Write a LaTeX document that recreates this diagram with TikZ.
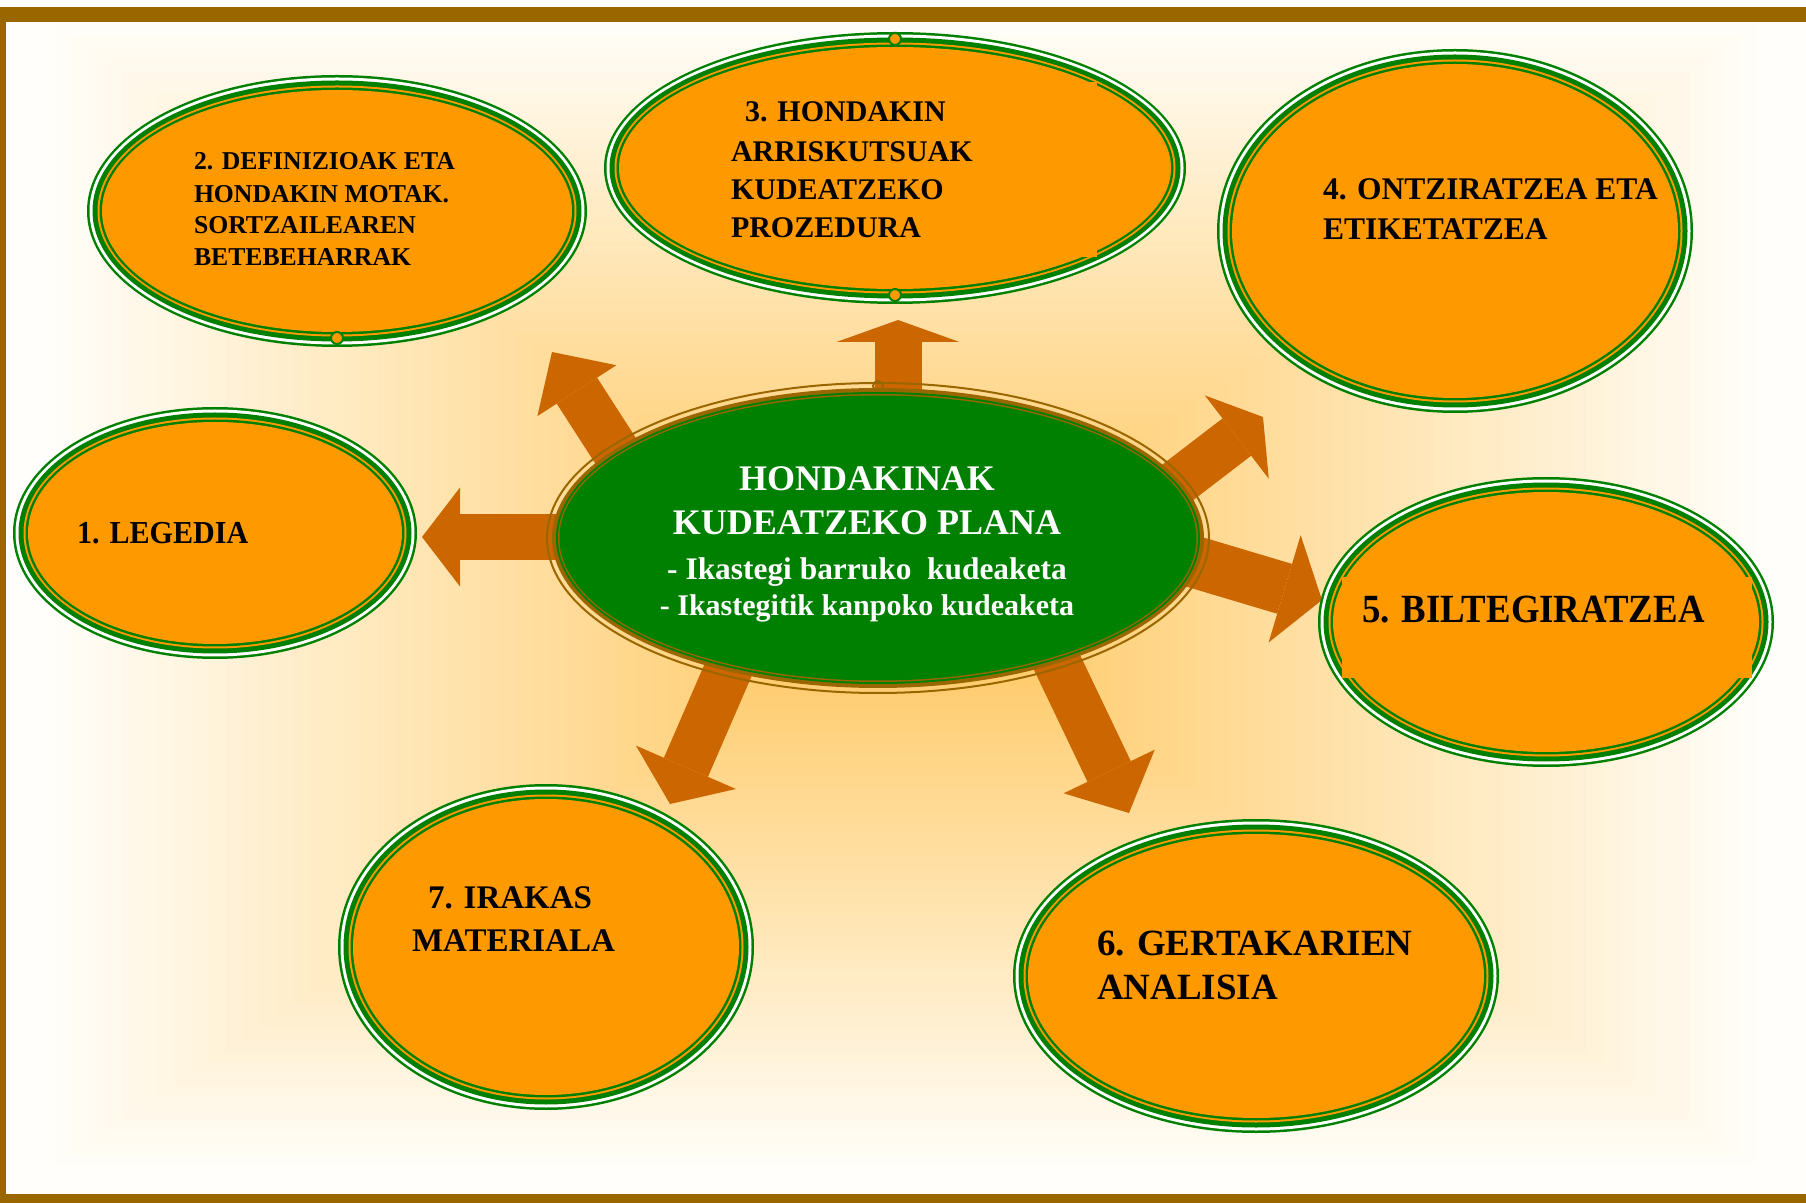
\documentclass[tikz,border=0pt]{standalone}
\usepackage{fontspec}
\setmainfont{Liberation Serif}
\newfontfamily\tnrC[FakeStretch=0.92]{Liberation Serif}
\newfontfamily\tnrD[FakeStretch=0.94]{Liberation Serif}
\usetikzlibrary{shapes.geometric,arrows.meta}

\definecolor{framebrown}{HTML}{996600}
\definecolor{ringgreen}{HTML}{008000}
\definecolor{satorange}{HTML}{FF9900}
\definecolor{arrowbrown}{HTML}{CC6600}
\definecolor{glowin}{HTML}{FFC55A}
\definecolor{glowout}{HTML}{FFFDF7}
\definecolor{pagebg}{HTML}{FFFEFB}

% concentric ring fills of an orange satellite: cx cy rx ry
\newcommand\satrings[4]{%
  \fill[ringgreen] (#1,#2) ellipse [x radius=#3, y radius=#4];
  \fill[white] (#1,#2) ellipse [x radius=#3-2.5, y radius=#4-2.5];
  \fill[ringgreen] (#1,#2) ellipse [x radius=#3-5.5, y radius=#4-5.5];
  \fill[satorange] (#1,#2) ellipse [x radius=#3-10.5, y radius=#4-10.5];
  \fill[ringgreen] (#1,#2) ellipse [x radius=#3-12.5, y radius=#4-12.5];
  \fill[satorange] (#1,#2) ellipse [x radius=#3-15, y radius=#4-15];
}

\begin{document}
\begin{tikzpicture}[x=0.5pt, y=-0.5pt,
  satnode/.style={ellipse, inner sep=0pt, outer sep=0pt},
  lbl/.style={inner sep=0pt, outer sep=0pt, anchor=base west, text=black,
              font={\bfseries\fontsize{#1}{#1}\selectfont}},
  clbl/.style={inner sep=0pt, outer sep=0pt, anchor=base, text=white,
              font={\bfseries\fontsize{#1}{#1}\selectfont}},
  barrow/.style n args={3}{draw=arrowbrown, line width=#1,
              -{Triangle[width=#2, length=#3, line width=0pt]}},
  marker/.style={draw=ringgreen, line width=1pt, fill=satorange}
]
\useasboundingbox (0,0) rectangle (1806,1203);
\fill[white] (0,0) rectangle (1806,1203);
\fill[pagebg] (0,22) rectangle (1806,1194);

% rectangular glow from the centre
\foreach \i in {0,...,49}{
  \pgfmathsetmacro\f{1-\i/50}
  \pgfmathsetmacro\p{100*\i/49}
  \fill[glowin!\p!glowout] ({906-851*\f},{595-570*\f}) rectangle ({906+851*\f},{595+570*\f});
}

% frame
\fill[framebrown] (0,7) rectangle (1806,22);
\fill[framebrown] (0,7) rectangle (6,1203);
\fill[framebrown] (0,1194) rectangle (1806,1203);

% block arrows (start points lie under the centre ellipse)
\coordinate (a1s) at (898,440);  \coordinate (a1t) at (898,320);
\coordinate (a2s) at (565,537);  \coordinate (a2t) at (422,537);
\coordinate (a3s) at (628,470);  \coordinate (a3t) at (552,352);
\coordinate (a4s) at (1160,496); \coordinate (a4t) at (1263,417);
\coordinate (a5s) at (1178,557); \coordinate (a5t) at (1322,600);
\coordinate (a6s) at (1030,606); \coordinate (a6t) at (1129,813);
\coordinate (a7s) at (762,592);  \coordinate (a7t) at (670,804);
\draw[barrow={23.5pt}{61.5pt}{11pt}] (a1s) -- (a1t);
\draw[barrow={23pt}{49.5pt}{19pt}] (a2s) -- (a2t);
\draw[barrow={24pt}{47pt}{23pt}] (a3s) -- (a3t);
\draw[barrow={23.5pt}{52.5pt}{16.5pt}] (a4s) -- (a4t);
\draw[barrow={26pt}{56pt}{19.5pt}] (a5s) -- (a5t);
\draw[barrow={24pt}{50.5pt}{23pt}] (a6s) -- (a6t);
\draw[barrow={24pt}{54.5pt}{20pt}] (a7s) -- (a7t);

% satellites
\satrings{215}{533}{202}{126}
\node[satnode, minimum width=202pt, minimum height=126pt] (s1) at (215,533) {};
\satrings{337}{211}{250}{136}
\node[satnode, minimum width=250pt, minimum height=136pt] (s2) at (337,211) {};
\satrings{895}{168}{291}{136}
\fill[satorange] (720,82) rectangle (1097,257);
\node[satnode, minimum width=291pt, minimum height=136pt] (s3) at (895,168) {};
\satrings{1455}{231}{238}{182}
\node[satnode, minimum width=238pt, minimum height=182pt] (s4) at (1455,231) {};
\satrings{1546}{622}{228}{145}
\fill[satorange] (1342,577) rectangle (1752,678);
\node[satnode, minimum width=228pt, minimum height=145pt] (s5) at (1546,622) {};
\satrings{1256}{976}{243}{157}
\node[satnode, minimum width=243pt, minimum height=157pt] (s6) at (1256,976) {};
\satrings{546}{947}{208}{163}
\node[satnode, minimum width=208pt, minimum height=163pt] (s7) at (546,947) {};

% small connection markers
\draw[marker] (337,338) circle [radius=6];
\draw[marker] (895,39) circle [radius=6];
\draw[marker] (895,295) circle [radius=6];

% centre ellipse
\draw[framebrown, line width=1pt] (878,538) ellipse [x radius=331, y radius=155];
\fill[framebrown] (878,538) ellipse [x radius=326, y radius=150];
\fill[ringgreen] (878,538) ellipse [x radius=322, y radius=146];
\fill[framebrown] (878,538) ellipse [x radius=320, y radius=144];
\fill[ringgreen] (878,538) ellipse [x radius=318.5, y radius=142.5];
\node[satnode, minimum width=332pt, minimum height=156pt] (c) at (878,538) {};
\draw[framebrown, line width=1pt] (878,386) circle [radius=5];

% texts
\node[lbl=16pt, font=\tnrD\bfseries\fontsize{16pt}{16pt}\selectfont] (t1) at (77,544) {1. LEGEDIA};

\node[lbl=12.85pt] (t2a) at (194,170) {2. DEFINIZIOAK ETA};
\node[lbl=12.85pt] (t2b) at (194,203) {HONDAKIN MOTAK.};
\node[lbl=12.85pt] (t2c) at (194,234) {SORTZAILEAREN};
\node[lbl=12.85pt] (t2d) at (194,266) {BETEBEHARRAK};

\node[lbl=15pt] (t3a) at (745,122) {3. HONDAKIN};
\node[lbl=15pt] (t3b) at (731,162) {ARRISKUTSUAK};
\node[lbl=15pt] (t3c) at (731,200) {KUDEATZEKO};
\node[lbl=15pt] (t3d) at (731,238) {PROZEDURA};

\node[lbl=15.75pt] (t4a) at (1323,200) {4. ONTZIRATZEA ETA};
\node[lbl=15.75pt] (t4b) at (1323,240) {ETIKETATZEA};

\node[lbl=20pt, font=\tnrC\bfseries\fontsize{20pt}{20pt}\selectfont] (t5) at (1362,623) {5. BILTEGIRATZEA};

\node[lbl=18.5pt] (t6a) at (1097,955) {6. GERTAKARIEN};
\node[lbl=18.5pt] (t6b) at (1097,999) {ANALISIA};

\node[lbl=16.5pt] (t7a) at (428,908) {7. IRAKAS};
\node[lbl=16.5pt] (t7b) at (412,951) {MATERIALA};

\node[clbl=18pt] (c1) at (867,491) {HONDAKINAK};
\node[clbl=18pt] (c2) at (867,535) {KUDEATZEKO PLANA};
\node[clbl=15.7pt] (c3) at (867,580) {- Ikastegi barruko\ \ kudeaketa};
\node[clbl=15pt] (c4) at (867,616) {- Ikastegitik kanpoko kudeaketa};
\end{tikzpicture}
\end{document}
